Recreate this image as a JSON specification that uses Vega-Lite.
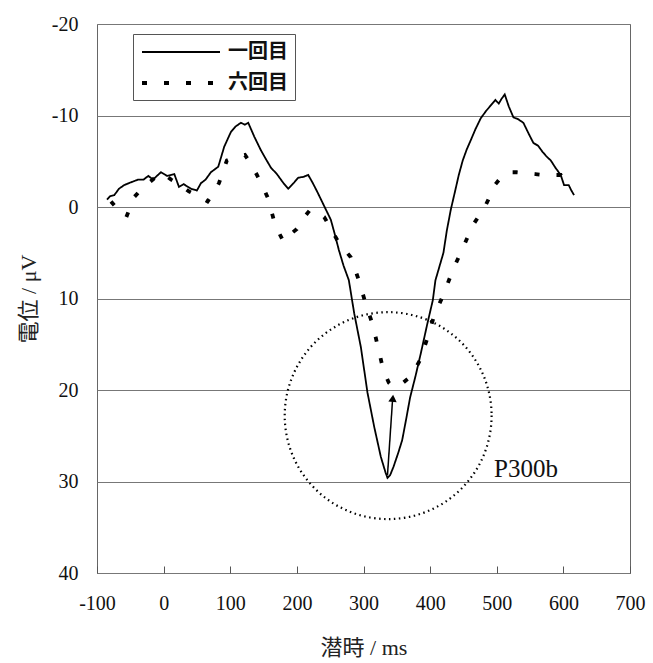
{
  "$schema": "https://vega.github.io/schema/vega-lite/v6.json",
  "width": 533,
  "height": 549,
  "autosize": {"type": "none"},
  "padding": {"left": 97, "top": 24, "right": 23, "bottom": 90},
  "background": "white",
  "config": {
    "view": {"stroke": "#666", "strokeWidth": 1},
    "font": "Liberation Serif"
  },
  "datasets": {
    "erp": [
      {"series": "一回目", "t": -85, "v": -0.8}, {"series": "一回目", "t": -80, "v": -1.2}, {"series": "一回目", "t": -74, "v": -1.3}, {"series": "一回目", "t": -67, "v": -2.0}, {"series": "一回目", "t": -59, "v": -2.4}, {"series": "一回目", "t": -49, "v": -2.7}, {"series": "一回目", "t": -38, "v": -3.0}, {"series": "一回目", "t": -30, "v": -3.0}, {"series": "一回目", "t": -23, "v": -3.4}, {"series": "一回目", "t": -16, "v": -3.0}, {"series": "一回目", "t": -4, "v": -3.8}, {"series": "一回目", "t": 5, "v": -3.4}, {"series": "一回目", "t": 16, "v": -3.6}, {"series": "一回目", "t": 23, "v": -2.2}, {"series": "一回目", "t": 30, "v": -2.5}, {"series": "一回目", "t": 41, "v": -2.0}, {"series": "一回目", "t": 50, "v": -1.8}, {"series": "一回目", "t": 56, "v": -2.6}, {"series": "一回目", "t": 63, "v": -3.0}, {"series": "一回目", "t": 71, "v": -3.8}, {"series": "一回目", "t": 82, "v": -4.4}, {"series": "一回目", "t": 91, "v": -6.6}, {"series": "一回目", "t": 101, "v": -8.2}, {"series": "一回目", "t": 108, "v": -8.8}, {"series": "一回目", "t": 116, "v": -9.2}, {"series": "一回目", "t": 122, "v": -9.0}, {"series": "一回目", "t": 127, "v": -9.2}, {"series": "一回目", "t": 136, "v": -7.7}, {"series": "一回目", "t": 146, "v": -6.2}, {"series": "一回目", "t": 153, "v": -5.3}, {"series": "一回目", "t": 161, "v": -4.3}, {"series": "一回目", "t": 170, "v": -3.6}, {"series": "一回目", "t": 180, "v": -2.6}, {"series": "一回目", "t": 187, "v": -2.0}, {"series": "一回目", "t": 195, "v": -2.6}, {"series": "一回目", "t": 202, "v": -3.2}, {"series": "一回目", "t": 210, "v": -3.3}, {"series": "一回目", "t": 217, "v": -3.5}, {"series": "一回目", "t": 224, "v": -2.6}, {"series": "一回目", "t": 231, "v": -1.6}, {"series": "一回目", "t": 241, "v": -0.1}, {"series": "一回目", "t": 251, "v": 1.4}, {"series": "一回目", "t": 257, "v": 3.0}, {"series": "一回目", "t": 263, "v": 4.7}, {"series": "一回目", "t": 270, "v": 6.4}, {"series": "一回目", "t": 278, "v": 8.0}, {"series": "一回目", "t": 286, "v": 11.6}, {"series": "一回目", "t": 296, "v": 15.3}, {"series": "一回目", "t": 306, "v": 20.3}, {"series": "一回目", "t": 316, "v": 24.0}, {"series": "一回目", "t": 326, "v": 27.3}, {"series": "一回目", "t": 333, "v": 29.0}, {"series": "一回目", "t": 336, "v": 29.6}, {"series": "一回目", "t": 340, "v": 29.3}, {"series": "一回目", "t": 345, "v": 28.4}, {"series": "一回目", "t": 352, "v": 26.9}, {"series": "一回目", "t": 358, "v": 25.5}, {"series": "一回目", "t": 364, "v": 23.2}, {"series": "一回目", "t": 370, "v": 20.8}, {"series": "一回目", "t": 378, "v": 18.5}, {"series": "一回目", "t": 386, "v": 16.0}, {"series": "一回目", "t": 396, "v": 12.7}, {"series": "一回目", "t": 404, "v": 10.2}, {"series": "一回目", "t": 408, "v": 8.0}, {"series": "一回目", "t": 414, "v": 6.5}, {"series": "一回目", "t": 420, "v": 5.0}, {"series": "一回目", "t": 425, "v": 2.6}, {"series": "一回目", "t": 431, "v": 0.3}, {"series": "一回目", "t": 438, "v": -1.9}, {"series": "一回目", "t": 443, "v": -3.5}, {"series": "一回目", "t": 449, "v": -5.1}, {"series": "一回目", "t": 455, "v": -6.3}, {"series": "一回目", "t": 461, "v": -7.3}, {"series": "一回目", "t": 468, "v": -8.5}, {"series": "一回目", "t": 476, "v": -9.7}, {"series": "一回目", "t": 484, "v": -10.5}, {"series": "一回目", "t": 491, "v": -11.1}, {"series": "一回目", "t": 498, "v": -11.7}, {"series": "一回目", "t": 503, "v": -11.3}, {"series": "一回目", "t": 507, "v": -11.8}, {"series": "一回目", "t": 512, "v": -12.3}, {"series": "一回目", "t": 518, "v": -11.0}, {"series": "一回目", "t": 525, "v": -9.8}, {"series": "一回目", "t": 532, "v": -9.6}, {"series": "一回目", "t": 540, "v": -9.2}, {"series": "一回目", "t": 548, "v": -8.0}, {"series": "一回目", "t": 555, "v": -7.0}, {"series": "一回目", "t": 562, "v": -6.7}, {"series": "一回目", "t": 569, "v": -6.0}, {"series": "一回目", "t": 575, "v": -5.5}, {"series": "一回目", "t": 581, "v": -5.1}, {"series": "一回目", "t": 588, "v": -4.3}, {"series": "一回目", "t": 596, "v": -3.5}, {"series": "一回目", "t": 601, "v": -2.4}, {"series": "一回目", "t": 608, "v": -2.4}, {"series": "一回目", "t": 612, "v": -1.8}, {"series": "一回目", "t": 616, "v": -1.3},
      {"series": "六回目", "t": -79, "v": -0.6}, {"series": "六回目", "t": -66, "v": 0.5}, {"series": "六回目", "t": -56, "v": 1.1}, {"series": "六回目", "t": -50, "v": 0.0}, {"series": "六回目", "t": -44, "v": -1.1}, {"series": "六回目", "t": -34, "v": -1.9}, {"series": "六回目", "t": -23, "v": -2.6}, {"series": "六回目", "t": -13, "v": -3.2}, {"series": "六回目", "t": -4, "v": -3.7}, {"series": "六回目", "t": 4, "v": -3.4}, {"series": "六回目", "t": 11, "v": -3.0}, {"series": "六回目", "t": 25, "v": -2.4}, {"series": "六回目", "t": 38, "v": -1.7}, {"series": "六回目", "t": 52, "v": -1.2}, {"series": "六回目", "t": 66, "v": -0.6}, {"series": "六回目", "t": 75, "v": -1.6}, {"series": "六回目", "t": 83, "v": -2.6}, {"series": "六回目", "t": 95, "v": -5.1}, {"series": "六回目", "t": 108, "v": -5.5}, {"series": "六回目", "t": 122, "v": -5.7}, {"series": "六回目", "t": 132, "v": -4.6}, {"series": "六回目", "t": 140, "v": -3.5}, {"series": "六回目", "t": 149, "v": -2.2}, {"series": "六回目", "t": 157, "v": -0.9}, {"series": "六回目", "t": 166, "v": 1.6}, {"series": "六回目", "t": 173, "v": 2.8}, {"series": "六回目", "t": 180, "v": 3.8}, {"series": "六回目", "t": 190, "v": 3.0}, {"series": "六回目", "t": 200, "v": 2.4}, {"series": "六回目", "t": 210, "v": 1.2}, {"series": "六回目", "t": 220, "v": 0.3}, {"series": "六回目", "t": 231, "v": 0.6}, {"series": "六回目", "t": 241, "v": 1.1}, {"series": "六回目", "t": 252, "v": 2.5}, {"series": "六回目", "t": 262, "v": 3.8}, {"series": "六回目", "t": 272, "v": 4.7}, {"series": "六回目", "t": 281, "v": 5.5}, {"series": "六回目", "t": 293, "v": 8.0}, {"series": "六回目", "t": 303, "v": 10.5}, {"series": "六回目", "t": 314, "v": 12.9}, {"series": "六回目", "t": 322, "v": 15.4}, {"series": "六回目", "t": 330, "v": 17.9}, {"series": "六回目", "t": 338, "v": 19.2}, {"series": "六回目", "t": 345, "v": 19.7}, {"series": "六回目", "t": 356, "v": 19.4}, {"series": "六回目", "t": 368, "v": 18.7}, {"series": "六回目", "t": 377, "v": 17.8}, {"series": "六回目", "t": 385, "v": 16.7}, {"series": "六回目", "t": 396, "v": 14.3}, {"series": "六回目", "t": 406, "v": 11.9}, {"series": "六回目", "t": 421, "v": 9.4}, {"series": "六回目", "t": 434, "v": 6.9}, {"series": "六回目", "t": 449, "v": 4.5}, {"series": "六回目", "t": 464, "v": 2.0}, {"series": "六回目", "t": 473, "v": 1.0}, {"series": "六回目", "t": 482, "v": 0.0}, {"series": "六回目", "t": 490, "v": -1.2}, {"series": "六回目", "t": 496, "v": -2.3}, {"series": "六回目", "t": 506, "v": -3.2}, {"series": "六回目", "t": 517, "v": -3.8}, {"series": "六回目", "t": 530, "v": -3.8}, {"series": "六回目", "t": 545, "v": -3.7}, {"series": "六回目", "t": 558, "v": -3.6}, {"series": "六回目", "t": 570, "v": -3.5}, {"series": "六回目", "t": 583, "v": -3.5}, {"series": "六回目", "t": 596, "v": -3.5}, {"series": "六回目", "t": 600, "v": -3.0}
    ],
    "circle": [{"t": 337, "v": 22.8}],
    "arrow": [{"t": 336, "v": 29.3, "t2": 343.5, "v2": 21.2}],
    "head": [{"t": 344, "v": 20.9}],
    "label": [{"t": 496, "v": 28.6, "text": "P300b"}]
  },
  "layer": [
    {
      "data": {"name": "erp"},
      "mark": {"type": "line", "color": "black", "interpolate": "linear"},
      "encoding": {
        "x": {
          "field": "t", "type": "quantitative",
          "scale": {"domain": [-100, 700], "nice": false, "zero": false},
          "axis": {
            "values": [-100, 0, 100, 200, 300, 400, 500, 600, 700],
            "labelExpr": "'' + datum.value",
            "grid": false, "domain": false,
            "ticks": true, "tickSize": -7, "tickColor": "#555",
            "labelFont": "Liberation Serif", "labelFontSize": 20, "labelColor": "#111",
            "labelPadding": 27, "labelFlush": false,
            "title": "潜時 / ms",
            "titleFont": "Liberation Serif, Noto Sans CJK JP", "titleFontSize": 22, "titleFontWeight": "normal", "titleColor": "#222",
            "titlePadding": 24
          }
        },
        "y": {
          "field": "v", "type": "quantitative",
          "scale": {"domain": [-20, 40], "reverse": true, "nice": false, "zero": false},
          "axis": {
            "values": [-20, -10, 0, 10, 20, 30, 40],
            "labelExpr": "'' + datum.value",
            "grid": true, "gridColor": "#777", "gridWidth": 1,
            "domain": false, "ticks": false,
            "labelFont": "Liberation Serif", "labelFontSize": 20, "labelColor": "#111",
            "labelPadding": 19, "labelFlush": false,
            "title": "電位 / μV",
            "titleFont": "Liberation Serif, Noto Sans CJK JP", "titleFontSize": 22, "titleFontWeight": "normal", "titleColor": "#222",
            "titlePadding": 11
          }
        },
        "strokeDash": {
          "field": "series", "type": "nominal",
          "scale": {"domain": ["一回目", "六回目"], "range": [[1, 0], [5, 17]]},
          "legend": {
            "title": null, "orient": "none", "legendX": 36, "legendY": 10,
            "symbolType": "M-1,0H6.8", "symbolSize": 400, "symbolStrokeColor": "black",
            "labelFont": "Noto Sans CJK JP", "labelFontSize": 20, "labelFontWeight": "bold", "labelColor": "#111",
            "labelOffset": 64, "rowPadding": 9, "padding": 7,
            "strokeColor": "#555", "fillColor": "white"
          }
        },
        "strokeWidth": {
          "field": "series", "type": "nominal",
          "scale": {"domain": ["一回目", "六回目"], "range": [1.8, 3.8]},
          "legend": null
        }
      }
    },
    {
      "data": {"name": "circle"},
      "mark": {"type": "point", "shape": "circle", "filled": false, "stroke": "black", "strokeWidth": 2.2, "strokeDash": [1.5, 3.5], "size": 42800, "opacity": 1},
      "encoding": {
        "x": {"field": "t", "type": "quantitative"},
        "y": {"field": "v", "type": "quantitative"}
      }
    },
    {
      "data": {"name": "arrow"},
      "mark": {"type": "rule", "color": "black", "strokeWidth": 1.5},
      "encoding": {
        "x": {"field": "t", "type": "quantitative"},
        "y": {"field": "v", "type": "quantitative"},
        "x2": {"field": "t2"},
        "y2": {"field": "v2"}
      }
    },
    {
      "data": {"name": "head"},
      "mark": {"type": "point", "shape": "triangle-up", "filled": true, "color": "black", "size": 70, "angle": 5, "opacity": 1},
      "encoding": {
        "x": {"field": "t", "type": "quantitative"},
        "y": {"field": "v", "type": "quantitative"}
      }
    },
    {
      "data": {"name": "label"},
      "mark": {"type": "text", "font": "Liberation Serif", "fontSize": 25, "align": "left", "baseline": "middle", "color": "#111"},
      "encoding": {
        "x": {"field": "t", "type": "quantitative"},
        "y": {"field": "v", "type": "quantitative"},
        "text": {"field": "text"}
      }
    }
  ]
}
